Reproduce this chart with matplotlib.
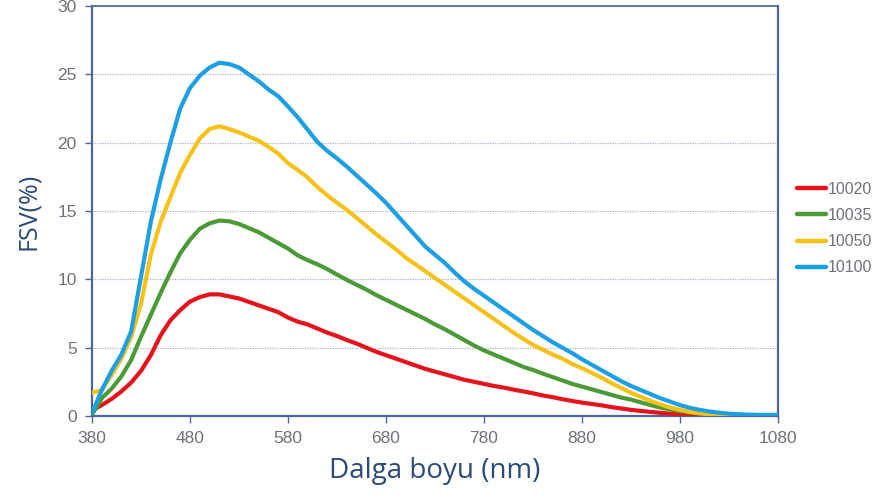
import matplotlib
matplotlib.use("Agg")
import matplotlib.pyplot as plt
import numpy as np

wavelength = list(range(380, 1081, 10))

s10020 = [0.4, 0.8, 1.25, 1.8, 2.45, 3.3, 4.45, 5.9, 7.0, 7.75,
          8.37, 8.7, 8.9, 8.9, 8.75, 8.6, 8.35, 8.1, 7.85, 7.6,
          7.2, 6.9, 6.7, 6.4, 6.1, 5.85, 5.56, 5.3, 5.0, 4.7,
          4.45, 4.2, 3.95, 3.7, 3.45, 3.25, 3.05, 2.85, 2.65, 2.5,
          2.35, 2.2, 2.08, 1.93, 1.8, 1.66, 1.5, 1.38, 1.23, 1.1,
          0.98, 0.88, 0.78, 0.65, 0.55, 0.45, 0.37, 0.3, 0.23, 0.17,
          0.12, 0.09, 0.07, 0.05, 0.04, 0.03, 0.03, 0.02, 0.02, 0.02, 0.02]

s10035 = [0.1, 1.3, 2.0, 2.9, 4.1, 5.8, 7.4, 9.0, 10.5, 11.9,
          12.9, 13.7, 14.1, 14.3, 14.25, 14.05, 13.75, 13.45, 13.05, 12.65,
          12.25, 11.75, 11.4, 11.1, 10.75, 10.35, 9.96, 9.6, 9.25, 8.85,
          8.5, 8.15, 7.8, 7.45, 7.1, 6.7, 6.35, 5.95, 5.55, 5.15,
          4.8, 4.5, 4.2, 3.9, 3.6, 3.37, 3.1, 2.85, 2.6, 2.35,
          2.15, 1.95, 1.75, 1.55, 1.35, 1.2, 1.0, 0.8, 0.62, 0.48,
          0.36, 0.26, 0.18, 0.12, 0.08, 0.05, 0.04, 0.03, 0.03, 0.03, 0.03]

s10050 = [1.7, 1.9, 3.0, 4.2, 5.8, 8.2, 11.8, 14.2, 16.0, 17.8,
          19.1, 20.3, 21.0, 21.2, 21.0, 20.75, 20.45, 20.15, 19.7, 19.2,
          18.5, 18.0, 17.45, 16.75, 16.15, 15.6, 15.08, 14.5, 13.9, 13.3,
          12.75, 12.2, 11.6, 11.1, 10.6, 10.1, 9.6, 9.1, 8.6, 8.1,
          7.6, 7.1, 6.6, 6.1, 5.65, 5.2, 4.85, 4.5, 4.2, 3.8,
          3.5, 3.15, 2.8, 2.4, 2.05, 1.7, 1.4, 1.1, 0.85, 0.62,
          0.45, 0.3, 0.2, 0.13, 0.08, 0.05, 0.04, 0.03, 0.03, 0.03, 0.03]

s10100 = [0.2, 1.9, 3.3, 4.5, 6.2, 10.2, 14.2, 17.3, 20.0, 22.5,
          24.0, 24.9, 25.5, 25.85, 25.75, 25.5, 25.0, 24.5, 23.9, 23.4,
          22.65, 21.85, 20.95, 20.05, 19.4, 18.85, 18.25, 17.6, 16.95, 16.3,
          15.6, 14.8, 14.0, 13.2, 12.4, 11.8, 11.2, 10.5, 9.85, 9.3,
          8.8, 8.3, 7.8, 7.3, 6.8, 6.3, 5.85, 5.4, 5.0, 4.6,
          4.15, 3.75, 3.35, 2.95, 2.55, 2.2, 1.9, 1.6, 1.3, 1.05,
          0.8, 0.6, 0.45, 0.33, 0.24, 0.17, 0.13, 0.1, 0.08, 0.08, 0.08]

series_names = ["10020", "10035", "10050", "10100"]
series_values = [s10020, s10035, s10050, s10100]
series_colors = ["#e5141c", "#4b9a37", "#f6c21a", "#1c9fe3"]

x_ticks = [380, 480, 580, 680, 780, 880, 980, 1080]
y_ticks = [0, 5, 10, 15, 20, 25, 30]

spine_color = "#4d6699"
tick_text_color = "#6e727a"
label_color = "#2c4a78"

fig = plt.figure(figsize=(8.79, 4.99), dpi=100)
ax = fig.add_axes([92 / 879, 1 - 416 / 499, (778 - 92) / 879, (416 - 6) / 499])

for name, vals, col in zip(series_names, series_values, series_colors):
    ax.plot(wavelength, vals, color=col, lw=3.0, label=name,
            solid_capstyle="round", solid_joinstyle="round", zorder=3)

ax.set_xlim(380, 1080)
ax.set_ylim(0, 30)
ax.set_xticks(x_ticks)
ax.set_yticks(y_ticks)
ax.tick_params(axis="both", colors=spine_color, labelcolor=tick_text_color,
               labelsize=12.5, length=5, width=1)
ax.tick_params(axis="x", pad=6)
ax.tick_params(axis="y", pad=6)
for lbl in ax.get_xticklabels() + ax.get_yticklabels():
    lbl.set_fontfamily("Liberation Sans")

ax.grid(axis="y", linestyle=(0, (1, 1)), color="#aab4cc", linewidth=0.9, zorder=0)
for side in ["left", "bottom", "right", "top"]:
    ax.spines[side].set_color(spine_color)
    ax.spines[side].set_linewidth(1.6)
ax.spines["top"].set_linewidth(1.2)

ax.set_xlabel("Dalga boyu (nm)", fontsize=20, color=label_color,
              family="Open Sans", labelpad=8)
ax.set_ylabel("FSV(%)", fontsize=18, color=label_color,
              family="Open Sans", labelpad=12)

leg = ax.legend(loc="center left", bbox_to_anchor=(1.027, 0.457), frameon=False,
                fontsize=11.5, handlelength=1.85, handletextpad=0.1,
                labelspacing=0.7, borderpad=0, borderaxespad=0,
                prop={"family": "Liberation Sans", "size": 11.5})
for line in leg.get_lines():
    line.set_linewidth(3.2)
for t in leg.get_texts():
    t.set_color(tick_text_color)

fig.savefig("out.png", dpi=100)
